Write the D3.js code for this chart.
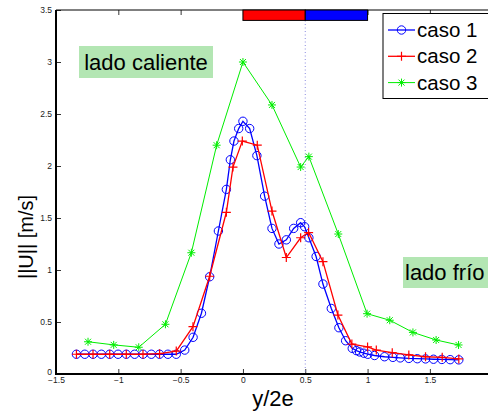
<!DOCTYPE html>
<meta charset="utf-8">
<script src="https://d3js.org/d3.v7.min.js"></script>
<style>
  body { margin: 0; background: #fff; }
  text { font-family: "Liberation Sans", Arial, sans-serif; }
</style>
<div id="chart"></div>
<script>

// data: [y/2e, ||U||]
var caso1 = [
  [-1.336,0.19],[-1.269,0.19],[-1.203,0.19],[-1.136,0.19],[-1.069,0.19],[-1.002,0.19],
  [-0.936,0.19],[-0.869,0.19],[-0.802,0.19],[-0.735,0.19],[-0.669,0.19],[-0.602,0.19],
  [-0.535,0.19],[-0.467,0.23],[-0.400,0.353],[-0.333,0.584],[-0.267,0.935],[-0.197,1.375],
  [-0.133,1.775],[-0.101,2.06],[-0.072,2.24],[-0.034,2.36],[0.0,2.43],[0.054,2.36],
  [0.112,2.10],[0.174,1.71],[0.233,1.40],[0.289,1.25],[0.348,1.29],[0.407,1.40],
  [0.463,1.455],[0.495,1.416],[0.529,1.31],[0.587,1.13],[0.642,0.865],[0.709,0.63],
  [0.770,0.445],[0.824,0.32],[0.877,0.247],[0.91,0.225],[0.936,0.212],[0.97,0.20],
  [1.002,0.19],[1.056,0.178],[1.136,0.166],[1.203,0.16],[1.262,0.155],[1.331,0.15],
  [1.399,0.147],[1.465,0.145],[1.529,0.142],[1.596,0.14],[1.663,0.138],[1.732,0.136]
];
var caso2 = [
  [-1.336,0.19],[-1.203,0.19],[-1.069,0.19],[-0.936,0.19],[-0.802,0.19],[-0.669,0.195],
  [-0.535,0.22],[-0.401,0.455],[-0.267,0.94],[-0.133,1.555],[-0.08,1.99],[-0.005,2.24],
  [0.115,2.20],[0.233,1.567],[0.348,1.12],[0.463,1.31],[0.527,1.36],[0.642,1.08],
  [0.762,0.567],[0.874,0.288],[1.0,0.26],[1.07,0.23],[1.198,0.205],[1.331,0.183],
  [1.465,0.166],[1.599,0.16],[1.732,0.145]
];
var caso3 = [
  [-1.243,0.31],[-1.037,0.28],[-0.836,0.257],[-0.622,0.478],[-0.414,1.166],[-0.211,2.2],
  [0.0,3.0],[0.233,2.587],[0.463,1.99],[0.529,2.09],[0.765,1.346],[0.996,0.58],
  [1.178,0.517],[1.364,0.40],[1.55,0.327],[1.73,0.279]
];
var seriesNames = ["caso 1", "caso 2", "caso 3"];
var xTicks = [-1.5, -1, -0.5, 0, 0.5, 1, 1.5];
var yTicks = [0, 0.5, 1, 1.5, 2, 2.5, 3, 3.5];
var hotZone = [0, 0.5];
var coldZone = [0.5, 1];

var width = 488, height = 416;

var svg = d3.select("#chart")
  .append("svg")
    .attr("width", width)
    .attr("height", height);

var x = d3.scaleLinear().domain([-1.5, 2]).range([56, 492.2]);
var y = d3.scaleLinear().domain([0, 3.5]).range([374, 10]);

// axes, MATLAB style ticks pointing inward
var xAxis = svg.append("g")
    .attr("transform", "translate(0," + y(0) + ")")
    .call(d3.axisBottom(x).tickValues(xTicks).tickSize(-5).tickPadding(3)
      .tickFormat(function(d) { return d3.format("")(d); }));
var xTop = svg.append("g")
    .attr("transform", "translate(0," + y(3.5) + ")")
    .call(d3.axisTop(x).tickValues(xTicks).tickSize(-5).tickFormat(""));
var yAxis = svg.append("g")
    .attr("transform", "translate(" + x(-1.5) + ",0)")
    .call(d3.axisLeft(y).tickValues(yTicks).tickSize(-5).tickPadding(4)
      .tickFormat(function(d) { return d3.format("")(d); }));

svg.selectAll(".domain").remove();
svg.selectAll(".tick line").attr("stroke", "#000").attr("stroke-width", 0.8);
svg.selectAll(".tick text").style("font-size", "8.5px").attr("fill", "#222");
yAxis.select(".tick text").attr("dy", "0.05em");

// frame
svg.append("line")
  .attr("x1", x(-1.5)).attr("x2", width)
  .attr("y1", y(3.5)).attr("y2", y(3.5))
  .attr("stroke", "#000").attr("stroke-width", 1);
svg.append("line")
  .attr("x1", x(-1.5)).attr("x2", x(-1.5))
  .attr("y1", y(3.5)).attr("y2", y(0))
  .attr("stroke", "#000").attr("stroke-width", 2);
svg.append("line")
  .attr("x1", x(-1.5) - 1).attr("x2", width)
  .attr("y1", y(0)).attr("y2", y(0))
  .attr("stroke", "#000").attr("stroke-width", 2);

// dotted line at the middle
svg.append("line")
  .attr("x1", x(0.5)).attr("x2", x(0.5))
  .attr("y1", y(3.5)).attr("y2", y(0))
  .attr("stroke", "#8a8ae0")
  .attr("stroke-width", 1)
  .attr("stroke-dasharray", "1,2.5");

// red / blue bar
svg.append("rect")
  .attr("x", x(hotZone[0])).attr("y", y(3.5))
  .attr("width", x(hotZone[1]) - x(hotZone[0]))
  .attr("height", y(3.4) - y(3.5))
  .attr("fill", "#ff0000").attr("stroke", "#000").attr("stroke-width", 1);
svg.append("rect")
  .attr("x", x(coldZone[0])).attr("y", y(3.5))
  .attr("width", x(coldZone[1]) - x(coldZone[0]))
  .attr("height", y(3.4) - y(3.5))
  .attr("fill", "#0000ff").attr("stroke", "#000").attr("stroke-width", 1);

var line = d3.line()
  .x(function(d) { return x(d[0]); })
  .y(function(d) { return y(d[1]); });

// markers
function circleMark(g, cx, cy, color) {
  g.append("circle").attr("cx", cx).attr("cy", cy).attr("r", 4.2)
    .attr("fill", "none").attr("stroke", color).attr("stroke-width", 1);
}
function plusMark(g, cx, cy, color) {
  var s = 4.5;
  g.append("path")
    .attr("d", "M" + (cx - s) + "," + cy + "H" + (cx + s) + "M" + cx + "," + (cy - s) + "V" + (cy + s))
    .attr("stroke", color).attr("stroke-width", 1.2);
}
function starMark(g, cx, cy, color) {
  var s = 4, t = 3;
  g.append("path")
    .attr("d", "M" + (cx - s) + "," + cy + "H" + (cx + s) +
               "M" + cx + "," + (cy - s) + "V" + (cy + s) +
               "M" + (cx - t) + "," + (cy - t) + "L" + (cx + t) + "," + (cy + t) +
               "M" + (cx - t) + "," + (cy + t) + "L" + (cx + t) + "," + (cy - t))
    .attr("stroke", color).attr("stroke-width", 1);
}

var series = [
  {data: caso1, color: "#0000ff", mark: circleMark, w: 1.3},
  {data: caso2, color: "#ff0000", mark: plusMark, w: 1.3},
  {data: caso3, color: "#00ee00", mark: starMark, w: 1}
];

series.forEach(function(s) {
  var g = svg.append("g");
  g.append("path")
    .datum(s.data)
    .attr("d", line)
    .attr("fill", "none")
    .attr("stroke", s.color)
    .attr("stroke-width", s.w);
  s.data.forEach(function(d) { s.mark(g, x(d[0]), y(d[1]), s.color); });
});

// annotation boxes
svg.append("rect")
  .attr("x", 79).attr("y", 46).attr("width", 134).attr("height", 32)
  .attr("fill", "#b3e6b3");
svg.append("text")
  .attr("x", 146).attr("y", 70)
  .attr("text-anchor", "middle")
  .style("font-size", "22px")
  .text("lado caliente");

svg.append("rect")
  .attr("x", 403).attr("y", 257).attr("width", 90).attr("height", 31)
  .attr("fill", "#b3e6b3");
svg.append("text")
  .attr("x", 405).attr("y", 280)
  .style("font-size", "22px")
  .text("lado frío");

// legend
var legend = svg.append("g");
legend.append("rect")
  .attr("x", 383).attr("y", 13.5).attr("width", 120).attr("height", 85)
  .attr("fill", "#fff").attr("stroke", "#000").attr("stroke-width", 1);
seriesNames.forEach(function(name, i) {
  var ly = 30 + i * 26.3;
  legend.append("line")
    .attr("x1", 388).attr("x2", 415).attr("y1", ly).attr("y2", ly)
    .attr("stroke", series[i].color).attr("stroke-width", series[i].w);
  series[i].mark(legend, 401.5, ly, series[i].color);
  legend.append("text")
    .attr("x", 417).attr("y", ly + 7)
    .style("font-size", "20.5px")
    .text(name);
});

// axis labels
svg.append("text")
  .attr("x", 273).attr("y", 406)
  .attr("text-anchor", "middle")
  .style("font-size", "22px")
  .text("y/2e");
svg.append("text")
  .attr("transform", "translate(33,237) rotate(-90)")
  .attr("text-anchor", "middle")
  .style("font-size", "20px")
  .text("||U|| [m/s]");

</script>
